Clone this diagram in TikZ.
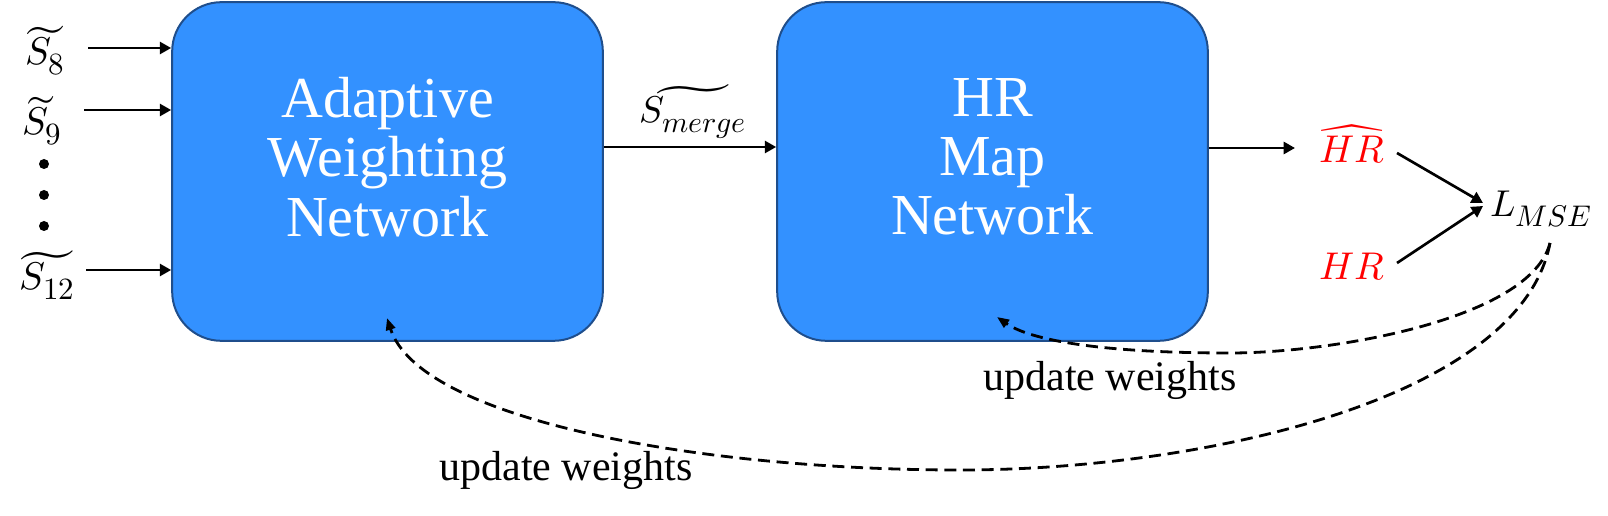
\documentclass[tikz,border=0pt]{standalone}
\usepackage{fontspec}
\usepackage{unicode-math}
\setmainfont{Liberation Serif}
\setmathfont{Latin Modern Math}
\renewcommand\defaultscriptratio{.8}
\usetikzlibrary{arrows.meta}
\definecolor{boxblue}{RGB}{51,145,255}
\definecolor{boxedge}{RGB}{31,78,140}
\begin{document}
\begin{tikzpicture}[x=0.75pt,y=-0.75pt,
  netbox/.style={draw=boxedge,line width=1.5pt,fill=boxblue,rounded corners=37pt,
    minimum width=323pt,minimum height=254pt},
  boxtext/.style={text=white,align=center,inner sep=0pt,
    font=\fontsize{43.5}{44.5}\selectfont},
  mlab/.style={inner sep=0pt,anchor=base,font=\fontsize{29}{31}\selectfont},
  arr/.style={line width=2pt,-{Triangle[length=8.5pt,width=9pt]}},
  darr/.style={line width=2.1pt,dash pattern=on 9pt off 5pt,-{Triangle[length=9pt,width=7pt]}},
  wlab/.style={font=\fontsize{31.5}{34}\selectfont,inner sep=0pt,anchor=base}]
\useasboundingbox (0,0) rectangle (1608,516);
\node[netbox] (awn) at (387.5,171.5) {};
\node[netbox] (hmn) at (992.5,171.5) {};
\node[boxtext] (awnt) at ([yshift=11pt]awn.center) {Adaptive\\Weighting\\Network};
\node[boxtext] (hmnt) at ([yshift=11pt]hmn.center) {HR\\Map\\Network};
% inputs
\node[mlab] (s8) at (45,65) {$\widetilde{S_8}$};
\node[mlab] (s9) at (42,135) {$\widetilde{S}_9$};
\node[mlab] (s12) at (47,290) {$\widetilde{S_{12}}$};
\foreach \yy/\nm in {164/d1,195/d2,226/d3}
  \fill (44,\yy) circle (5) coordinate (\nm);
\coordinate (i8) at (88,48);
\coordinate (i9) at (84,110);
\coordinate (i12) at (86,270);
\draw[arr] (i8) -- (i8 -| awn.west);
\draw[arr] (i9) -- (i9 -| awn.west);
\draw[arr] (i12) -- (i12 -| awn.west);
% merge
\node[inner sep=0pt,anchor=base,font=\fontsize{28}{30}\selectfont] (sm) at (693,123) {$\widetilde{S_{merge}}$};
\coordinate (m1) at (603,147);
\draw[arr] (m1 -| awn.east) -- (m1 -| hmn.west);
% outputs
\node[mlab,text=red] (hrh) at (1352,163) {$\widehat{HR}$};
\node[mlab,text=red] (hr) at (1352,280) {$HR$};
\node[mlab,font=\fontsize{28}{30}\selectfont] (lmse) at (1541,217) {$L_{MSE}$};
\coordinate (o1) at (1295,148);
\draw[arr] (o1 -| hmn.east) -- (o1);
\coordinate (a1) at (1397,153);
\coordinate (a2) at (1397,263);
\coordinate (a3) at (1483,203);
\coordinate (a4) at (1483,206);
\draw[arr] (a1) -- (a3);
\draw[arr] (a2) -- (a4);
% feedback
\coordinate (fb) at (1550,243);
\coordinate (b1) at (1230,353);
\coordinate (b2) at (960,470);
\coordinate (t1) at (997,317);
\coordinate (t2) at (387,318);
\draw[darr] (fb) .. controls (1530,320) and (1330,353) .. (b1)
  .. controls (1100,353) and (1030,340) .. (t1);
\draw[darr] (fb) .. controls (1520,400) and (1200,470) .. (b2)
  .. controls (700,470) and (420,420) .. (t2);
\node[wlab] (uw1) at (1110,390) {update weights};
\node[wlab] (uw2) at (566,480) {update weights};
\end{tikzpicture}
\end{document}
